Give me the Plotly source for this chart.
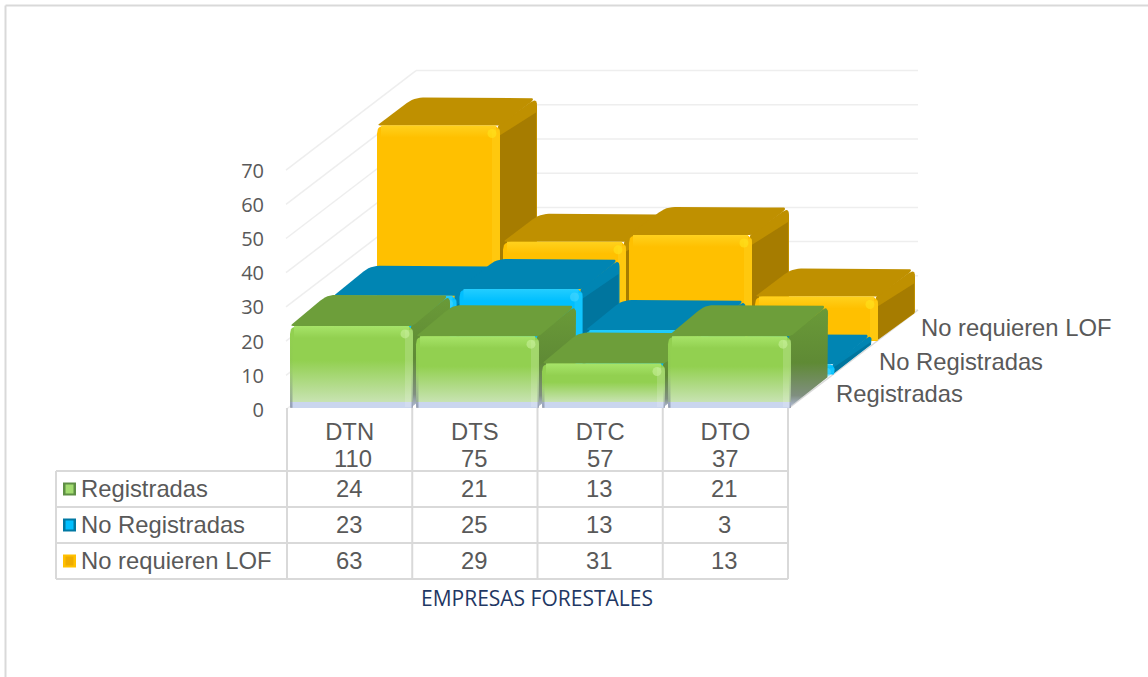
import plotly.graph_objects as go

# ---------- data ----------
categories = ["DTN", "DTS", "DTC", "DTO"]
totals = [110, 75, 57, 37]
series_names = ["Registradas", "No Registradas", "No requieren LOF"]
registradas = [24, 21, 13, 21]
no_registradas = [23, 25, 13, 3]
no_requieren = [63, 29, 31, 13]
value_ticks = [0, 10, 20, 30, 40, 50, 60, 70]
axis_title = "EMPRESAS FORESTALES"

# ---------- scales: data units <-> page pixels ----------
W, H = 1148, 677
X0_PX, X_PX = 287.0, 125.25     # category 0 edge, pixels per category
Y0_PX, Y_PX = 408.0, 3.42       # value 0 line, pixels per value unit
def dx(p): return (p - X0_PX) / X_PX
def dy(p): return (Y0_PX - p) / Y_PX
def sy(v): return Y0_PX - v * Y_PX

GREY = "#595959"
LINE = "#d9d9d9"
traces = []

def rounded(pts, radii):
    out = []
    n = len(pts)
    for i, (p, r) in enumerate(zip(pts, radii)):
        a, b = pts[i - 1], pts[(i + 1) % n]
        def toward(q):
            L = max(((q[0]-p[0])**2 + (q[1]-p[1])**2) ** .5, 1e-6)
            k = min(r, L / 2) / L
            return (p[0] + (q[0]-p[0]) * k, p[1] + (q[1]-p[1]) * k)
        s, e = toward(a), toward(b)
        for j in range(7):
            t = j / 6
            out.append(((1-t)**2*s[0] + 2*t*(1-t)*p[0] + t*t*e[0],
                        (1-t)**2*s[1] + 2*t*(1-t)*p[1] + t*t*e[1]))
    out.append(out[0])
    return out

def flip(stops):
    """stops are written top -> bottom; plotly's vertical gradient runs bottom -> top."""
    return [[1 - p, c] for p, c in reversed(stops)]

def poly(pts, color=None, stops=None, radii=None):
    if radii:
        pts = rounded(pts, radii)
    kw = dict(fillcolor=color) if color else dict(
        fillgradient=dict(type="vertical", colorscale=flip(stops)))
    traces.append(go.Scatter(x=[dx(p[0]) for p in pts], y=[dy(p[1]) for p in pts],
                             mode="lines", line=dict(width=0), fill="toself",
                             hoverinfo="skip", showlegend=False, **kw))

def lines(segs, color, width):
    xs, ys = [], []
    for (a, b) in segs:
        xs += [dx(a[0]), dx(b[0]), None]
        ys += [dy(a[1]), dy(b[1]), None]
    traces.append(go.Scatter(x=xs, y=ys, mode="lines", line=dict(color=color, width=width),
                             hoverinfo="skip", showlegend=False))

# ---------- walls ----------
BACK_X, BACK_Y = 130.0, 98.0
grid = []
for v in value_ticks:
    y = sy(v)
    grid.append(((286, y + 1.5), (286 + BACK_X, y - BACK_Y)))
    grid.append(((286 + BACK_X, y - BACK_Y), (918, y - BACK_Y)))
lines(grid, "#eeeeee", 1.5)
lines([((789, Y0_PX), (918, Y0_PX - BACK_Y))], LINE, 1.5)

# ---------- bars ----------
PAL = {
    0: dict(top="#6d9e3a", band="#6a9a38", side="#5f8a35", hi="#a8e56a", spot="#c8f09a"),
    1: dict(top="#0085b3", band="#0085b3", side="#00759e", hi="#25ceff", spot="#45d6ff"),
    2: dict(top="#bf9000", band="#bf9000", side="#a67c00", hi="#ffd21f", spot="#ffe21a"),
}
BASE = {1: "#00bfff", 2: "#ffc000"}
DEPTH = {0: 31, 1: 30, 2: 28}
BAR_W, BAR_DX, STEP = 123.0, 37.0, 126.0
ROW_X, ROW_Y = 43.5, 33.5

def bar(c, row, v):
    pal = PAL[row]
    d = DEPTH[row]
    x0 = 290 + c * STEP + row * ROW_X
    x1 = x0 + BAR_W
    yb = Y0_PX - row * ROW_Y
    yt = yb - v * Y_PX
    h = yb - yt
    # right side
    if row == 0:
        side = [[0, "#6a9a38"], [0.55, "#5f8a35"], [0.88, "#808f80"], [1, "#b4bfda"]]
        poly([(x1-2, yt), (x1+BAR_DX, yt-d), (x1+BAR_DX, yb-d), (x1-2, yb)], stops=side, radii=[1, 8, 1, 1])
    else:
        poly([(x1-2, yt), (x1+BAR_DX, yt-d), (x1+BAR_DX, yb-d), (x1-2, yb)], color=pal["band"], radii=[1, 8, 1, 1])
        inner_top = min(11, h * .4)
        poly([(x1-2, yt+inner_top), (x1+BAR_DX-1, yt-d+inner_top+4), (x1+BAR_DX-1, yb-d), (x1-2, yb)], color=pal["side"])
    # top
    poly([(x0, yt), (x0+BAR_DX, yt-d), (x1+BAR_DX, yt-d), (x1, yt)], color=pal["top"], radii=[3, 9, 9, 3])
    # front
    front = [(x0, yt), (x1, yt), (x1, yb), (x0, yb)]
    if row == 0:
        f = max(0, 1 - 6 / h)
        stops = [[0, "#92d050"], [0.42, "#92d050"], [f, "#c8e3b2"], [f, "#cad6ee"], [1, "#cad6ee"]]
        poly(front, stops=stops, radii=[8, 8, 3, 3])
    else:
        poly(front, color=BASE[row], radii=[8, 8, 1, 1])
    # bevels
    fade = pal["hi"].replace("#", "")
    rgb = tuple(int(fade[i:i+2], 16) for i in (0, 2, 4))
    cs = [[0, f"rgba({rgb[0]},{rgb[1]},{rgb[2]},0.95)"], [1, f"rgba({rgb[0]},{rgb[1]},{rgb[2]},0)"]]
    poly([(x0+4, yt), (x1-4, yt), (x1-4, yt+min(12, h*.4)), (x0+4, yt+min(12, h*.4))], stops=cs)
    edge = "rgba(255,255,255,0.16)" if row == 0 else f"rgba({rgb[0]},{rgb[1]},{rgb[2]},0.45)"
    poly([(x1-8, yt+4), (x1, yt+4), (x1, yb-1), (x1-8, yb-1)], color=edge)
    if row == 0:
        shade = [[0, "rgba(80,90,110,0)"], [0.5, "rgba(80,90,110,0.05)"], [1, "rgba(80,90,110,0.45)"]]
        poly([(x0, yt+5), (x0+2.5, yt+5), (x0+2.5, yb), (x0, yb)], stops=shade)
        poly([(x1-1.5, yt+5), (x1, yt+5), (x1, yb), (x1-1.5, yb)], stops=shade)
    # bright corner
    traces.append(go.Scatter(x=[dx(x1-8)], y=[dy(yt+8)], mode="markers",
                             marker=dict(size=9, color=pal["spot"], opacity=.6, line=dict(width=0)),
                             hoverinfo="skip", showlegend=False))

all_series = [registradas, no_registradas, no_requieren]
for row in (2, 1, 0):
    for c, v in enumerate(all_series[row]):
        bar(c, row, v)

# ---------- data table ----------
TOP, ROW_EDGES = Y0_PX, [471, 507, 543, 579]
LEFT = 56
col_edges = [X0_PX + i * X_PX for i in range(len(categories) + 1)]
segs = [((x, TOP), (x, ROW_EDGES[-1])) for x in col_edges]
segs.append(((LEFT, ROW_EDGES[0]), (LEFT, ROW_EDGES[-1])))
segs += [((LEFT, y), (col_edges[-1], y)) for y in ROW_EDGES]
lines(segs, LINE, 2)

KEYS = [("#5f8f45", "#a3dc70"), ("#0078a3", "#00bfff"), ("#ffc000", "#eeac00")]
annots = []
def text(px, py, s, anchor="center", size=23.8, color=GREY, family="Liberation Sans"):
    annots.append(dict(x=dx(px), y=dy(py), xref="x", yref="y", text=s, showarrow=False,
                       xanchor=anchor, yanchor="middle",
                       font=dict(family=family, size=size, color=color)))

for c, t in enumerate(totals):
    text(col_edges[c] + X_PX / 2 + (3 if c == 0 else -0.5), 458, str(t))

for r, name in enumerate(series_names):
    yc = (ROW_EDGES[r] + ROW_EDGES[r + 1]) / 2
    poly([(63, yc-6.5), (76, yc-6.5), (76, yc+6.5), (63, yc+6.5)], color=KEYS[r][0])
    poly([(65.5, yc-4.5), (73.5, yc-4.5), (73.5, yc+4.5), (65.5, yc+4.5)], color=KEYS[r][1])
    text(79, yc - 1, name, "left")
    for c, v in enumerate(all_series[r]):
        text(col_edges[c] + X_PX / 2 - 1, yc - 0.5, str(v))

# series labels along the depth axis
for name, px, py in zip(series_names, (834, 877, 919), (393, 361, 327)):
    text(px, py, name, "left")

text(537, 598, axis_title, size=21, color="#1f3864", family="Open Sans")

# ---------- figure ----------
fig = go.Figure(traces)
fig.update_layout(
    width=W, height=H, margin=dict(l=0, r=0, t=0, b=0), autosize=False,
    paper_bgcolor="white", plot_bgcolor="white", showlegend=False, annotations=annots,
    xaxis=dict(range=[dx(0), dx(W)], showgrid=False, zeroline=False, showline=False,
               tickmode="array", tickvals=[i + .5 for i in range(len(categories))],
               ticktext=categories,
               ticks="", ticklabelstandoff=7, side="bottom",
               anchor="free", position=(H - Y0_PX) / H,
               tickfont=dict(family="Liberation Sans", size=23.8, color=GREY)),
    yaxis=dict(range=[dy(H), dy(0)], showgrid=False, zeroline=False, showline=False,
               tickmode="array", tickvals=value_ticks, ticks="",
               anchor="free", position=264 / W, ticklabelshift=2,
               tickfont=dict(family="Open Sans", size=20, color=GREY)),
    shapes=[
        dict(type="line", xref="paper", yref="paper", x0=5.5/W, x1=1, y0=1-5.5/H, y1=1-5.5/H,
             line=dict(color=LINE, width=2)),
        dict(type="line", xref="paper", yref="paper", x0=5.5/W, x1=5.5/W, y0=0, y1=1-5.5/H,
             line=dict(color=LINE, width=2)),
    ],
)
fig.write_html("out.html", config={"displayModeBar": False},
               post_script="document.body.style.margin='0';document.body.style.overflow='hidden';")
